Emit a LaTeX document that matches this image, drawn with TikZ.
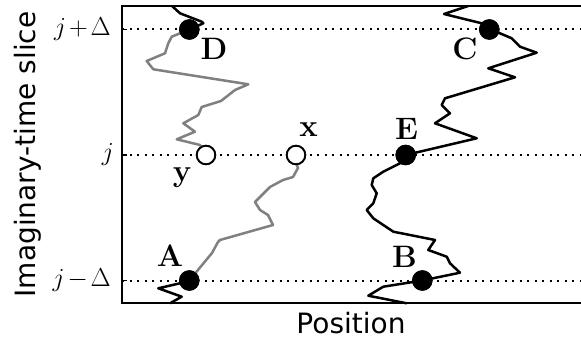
\RequirePackage{fix-cm}
\documentclass[tikz,border=0pt]{standalone}
\usepackage{fontspec}
\newfontfamily\dejavu{DejaVu Sans}
\begin{document}
\begin{tikzpicture}[x=1pt,y=-1pt,
  blk/.style={line width=2.5pt, line join=round, black},
  gry/.style={line width=2.5pt, line join=round, color=gray},
  ball/.style={circle, fill=black, minimum size=20.5pt, inner sep=0pt},
  hole/.style={circle, draw=black, fill=white, line width=1.8pt, minimum size=18.5pt, inner sep=0pt},
  lbl/.style={font=\fontsize{31}{31}\selectfont\bfseries, anchor=base, inner sep=0pt},
  tlab/.style={font=\fontsize{26}{26}\selectfont, anchor=east, inner sep=0pt},
  axlab/.style={font=\fontsize{28}{28}\selectfont\dejavu, anchor=base, inner sep=0pt},
  slice/.style={line width=2pt, dash pattern=on 2pt off 5.5pt},
  frame/.style={line width=2.5pt, line cap=rect}
]
\useasboundingbox (0,0) rectangle (581,339);
\begin{scope}
\clip (0,0) rectangle (581,339);
% slices
\coordinate (t1) at (122,29.5); \coordinate (t1e) at (581,29.5);
\coordinate (t0) at (122,155); \coordinate (t0e) at (581,155);
\coordinate (tm) at (122,280.5); \coordinate (tme) at (581,280.5);
\draw[slice] (t1) -- (t1e);
\draw[slice] (t0) -- (t0e);
\draw[slice] (tm) -- (tme);
% balls
\node[ball] (A) at (189.3,280.5) {};
\node[ball] (B) at (422.3,280.5) {};
\node[ball] (C) at (489.3,29.5) {};
\node[ball] (D) at (189.3,29.5) {};
\node[ball] (E) at (405.7,155) {};
\node[hole] (X) at (296,155) {};
\node[hole] (Y) at (206,155) {};
\coordinate (top1) at (468.3,6);
\coordinate (bot1) at (406.7,303.3);
\coordinate (top2) at (172,6);
\coordinate (bot2) at (170,303.3);
% gray paths
\draw[gry] (A.center) -- (212,253) -- (218,242) -- (220,240) -- (273,225) -- (268,215) -- (260,210) -- (255,202) -- (270,187) -- (283,180) -- (293,177) -- (298,168) -- (296,163) -- (X.center);
\draw[gry] (Y.center) -- (200,145) -- (176.7,139.3) -- (195,131.7) -- (183.3,123.3) -- (198.3,115) -- (201.7,107) -- (221,101) -- (235,90) -- (248.3,84.3) -- (153.3,69.3) -- (146.7,61) -- (165,53.3) -- (168.3,43.3) -- (171.7,36.7) -- (D.center);
% black paths
\draw[blk] (top1) -- (444,14) -- (481.7,23.3) -- (C.center) -- (500,33.3) -- (511.7,38.3) -- (520,46.7) -- (536.7,52.7) -- (488.3,68.3) -- (515,77.3) -- (445,98.3) -- (441.7,105) -- (450,113.3) -- (435,123.3) -- (476.7,138.3) -- (E.center) -- (400,163.3) -- (383.3,171.7) -- (373.3,178.3) -- (371.7,185) -- (376.7,193.3) -- (373.3,203.3) -- (366.7,210) -- (373.3,218.3) -- (393.3,231.7) -- (410,235) -- (435,240) -- (428.3,250) -- (446.7,256.7) -- (450,263.3) -- (460,272.7) -- (B.center) -- (383.3,286.7) -- (368.3,295.7) -- (bot1);
\draw[blk] (top2) -- (180,13.3) -- (201.7,21.7) -- (203.3,23.3) -- (D.center);
\draw[blk] (A.center) -- (180,283.3) -- (158.3,288.3) -- (181.7,296.7) -- (bot2);
% redraw balls on top
\node[ball] at (A) {};
\node[ball] at (B) {};
\node[ball] at (C) {};
\node[ball] at (D) {};
\node[ball] at (E) {};
\node[hole] at (X) {};
\node[hole] at (Y) {};
% frame
\draw[frame] (583,6) -- (122,6) -- (122,303) -- (583,303);
\draw[line width=1.5pt] (t1) -- ++(5,0);
\draw[line width=1.5pt] (t0) -- ++(5,0);
\draw[line width=1.5pt] (tm) -- ++(5,0);
\end{scope}
% labels
\node[lbl] (lA) at (170,266) {A};
\node[lbl] (lB) at (404.5,268) {B};
\node[lbl] (lC) at (465,59.5) {C};
\node[lbl] (lD) at (214,60) {D};
\node[lbl] (lE) at (406.5,140) {E};
\node[lbl] (lx) at (308.5,137) {x};
\node[lbl] (ly) at (182,181.5) {y};
\node[tlab] (k1) at (111,29.5) {$j\mkern2mu{+}\mkern2mu\Delta$};
\node[tlab] (k0) at (114,155) {$j$};
\node[tlab] (km) at (111,280.5) {$j\mkern2mu{-}\mkern2mu\Delta$};
\node[axlab, text depth=0pt] (xl) at (351,333) {Position};
\node[axlab, rotate=90] (yl) at (35,154.5) {Imaginary-time slice};
\end{tikzpicture}
\end{document}
